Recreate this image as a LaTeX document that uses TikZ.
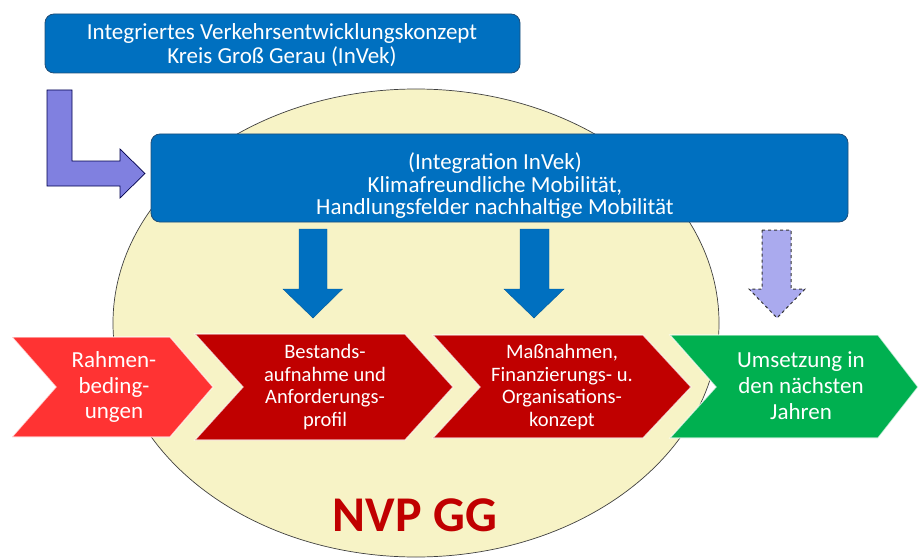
\documentclass[tikz,border=0pt]{standalone}
\usepackage{fontspec}
\setmainfont{Carlito}
\definecolor{boxblue}{HTML}{0070C0}
\definecolor{boxline}{HTML}{1F4E79}
\definecolor{ellfill}{HTML}{F7F3C6}
\definecolor{lblue}{HTML}{8080E0}
\definecolor{lavender}{HTML}{AAAAEE}
\definecolor{lightred}{HTML}{FF3333}
\definecolor{darkred}{HTML}{C00000}
\definecolor{green}{HTML}{00B050}
\begin{document}
\begin{tikzpicture}[x=1pt,y=-1pt,
  bluebox/.style={draw=boxline,line width=0.8pt,fill=boxblue,rounded corners=9pt},
  boxtext/.style={text=white,align=center,font=\fontsize{23}{24}\selectfont},
  chevtext/.style={text=white,align=center,inner sep=0pt},
  chevron/.style={draw=white,draw opacity=0.7,line width=1.2pt},
  blockarrow/.style={fill=boxblue,draw=boxblue!80!black,line width=0.4pt}]
\useasboundingbox (0,0) rectangle (918,559);
% ellipse background
\path[fill=ellfill,draw=black!75,line width=0.7pt] (416,323) ellipse [x radius=303pt, y radius=234pt];
% top box
\node[bluebox,minimum width=475pt,minimum height=59pt,inner sep=0pt] (top) at (282.5,43.5) {};
\node[boxtext] (toptext) at (282,45) {Integriertes Verkehrsentwicklungskonzept\\Kreis Groß Gerau (InVek)};
% L-shaped arrow
\path[fill=lblue,draw=black!70!blue,line width=0.7pt]
  (47,90) -- (72,90) -- (72,161) -- (120,161) -- (120,149) -- (145,173.5)
  -- (120,198) -- (120,186) -- (47,186) -- cycle;
% middle box
\node[bluebox,minimum width=697pt,minimum height=88pt,inner sep=0pt] (mid) at (499.5,178) {};
\node[boxtext,font=\fontsize{23}{22.5}\selectfont] (midtext) at (495,186) {(Integration InVek)\\Klimafreundliche Mobilität,\\Handlungsfelder nachhaltige Mobilität};
% down arrows
\path[blockarrow] (299,229) -- (327,229) -- (327,289) -- (342.5,289) -- (313,318) -- (283,289) -- (299,289) -- cycle;
\path[blockarrow] (520,229) -- (549,229) -- (549,289) -- (564,289) -- (534,318) -- (504,289) -- (520,289) -- cycle;
\path[fill=lavender,draw=black!80,dashed,line width=1pt] (762,230) -- (791,230) -- (791,289) -- (805,289) -- (777,318) -- (749,289) -- (762,289) -- cycle;
% chevrons
\path[chevron,fill=lightred] (12,337) -- (170,337) -- (213,387) -- (170,437) -- (12,437) -- (56,387) -- cycle;
\path[chevron,fill=darkred] (195,334) -- (405,334) -- (453,387) -- (405,440) -- (195,440) -- (243,387) -- cycle;
\path[chevron,fill=darkred] (433,335) -- (643,335) -- (691,387) -- (643,438) -- (433,438) -- (480,387) -- cycle;
\path[chevron,fill=green] (670,335) -- (878,335) -- (918,387) -- (878,438) -- (670,438) -- (716,387) -- cycle;
\node[chevtext,font=\fontsize{23}{25.5}\selectfont] (c1) at (114,387) {Rahmen-\\beding-\\ungen};
\node[chevtext,font=\fontsize{20.5}{22.5}\selectfont] (c2) at (325,387) {Bestands-\\aufnahme und\\Anforderungs-\\profil};
\node[chevtext,font=\fontsize{20.5}{22.5}\selectfont] (c3) at (562,387) {Maßnahmen,\\Finanzierungs- u.\\Organisations-\\konzept};
\node[chevtext,font=\fontsize{23}{26}\selectfont] (c4) at (801,386) {Umsetzung in\\den nächsten\\Jahren};
% title
\node[text=darkred,font=\fontsize{50}{54}\bfseries\selectfont,inner sep=0pt] (nvp) at (415,515) {NVP GG};
\end{tikzpicture}
\end{document}
